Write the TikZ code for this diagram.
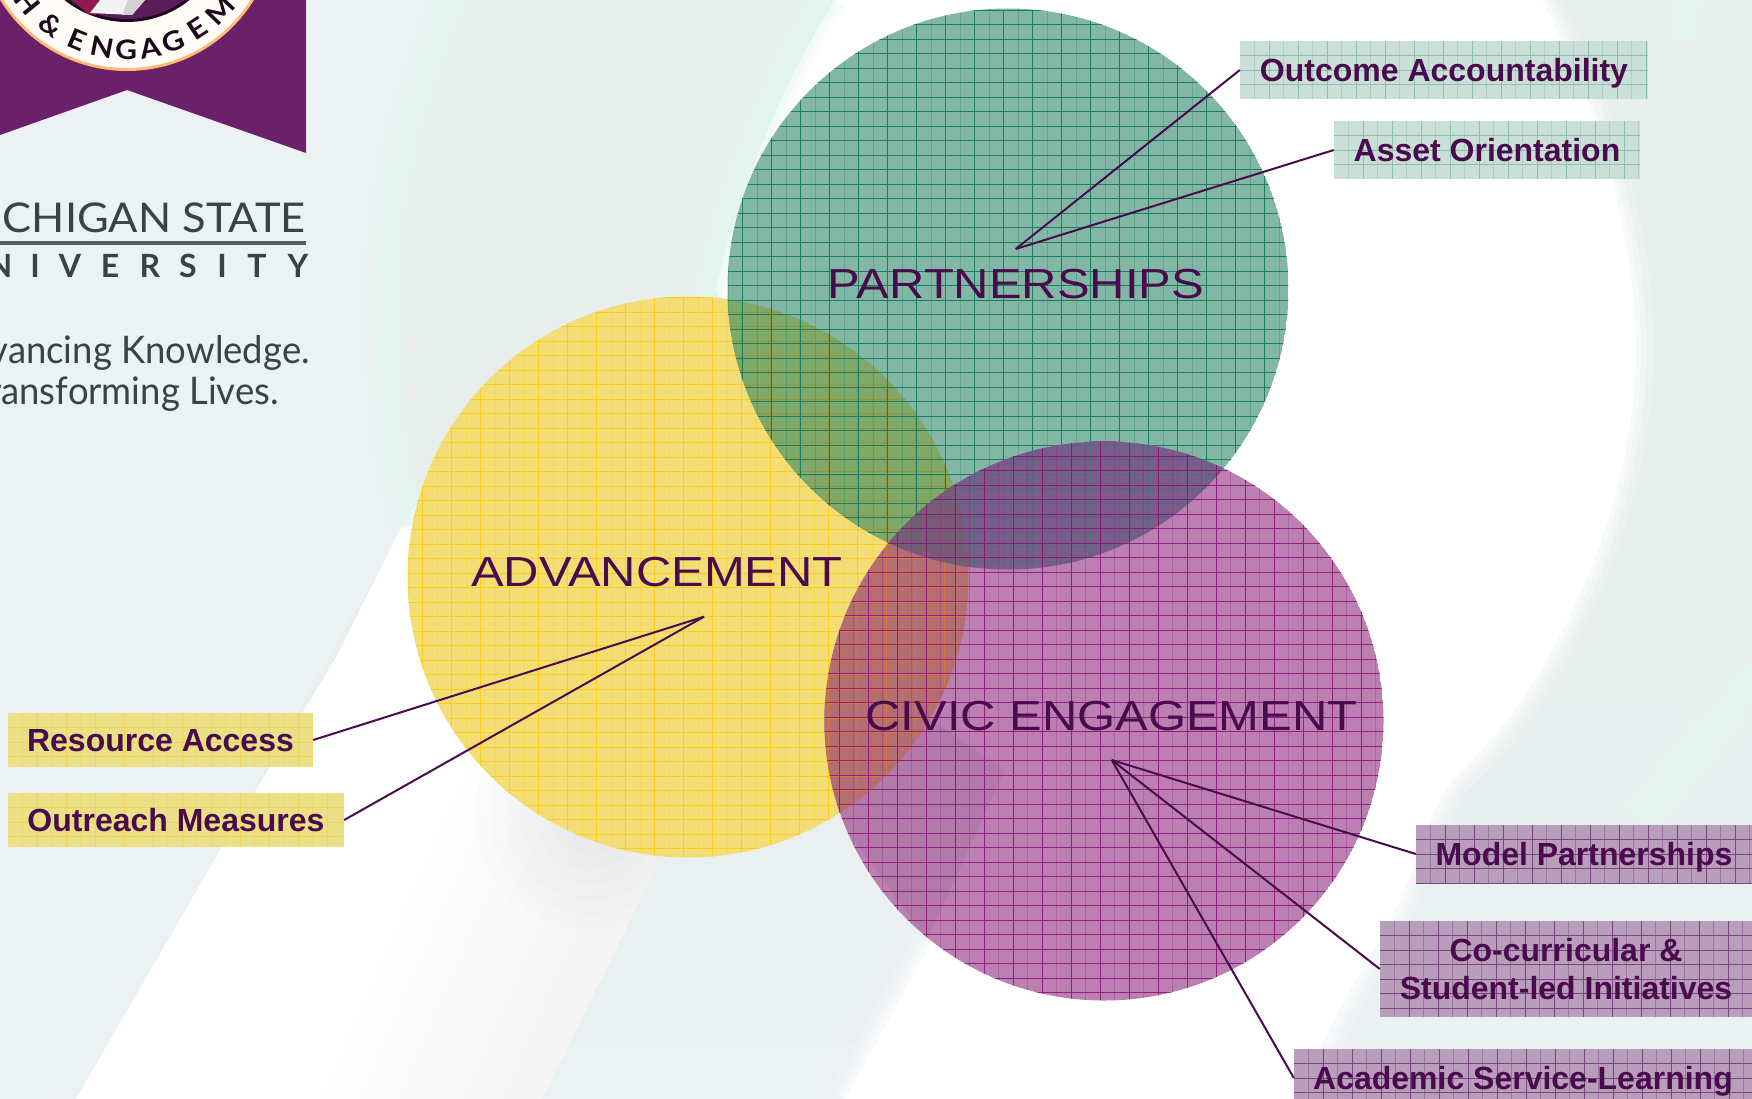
\documentclass[tikz,border=0pt]{standalone}
\usepackage{fontspec}
\setmainfont{Liberation Sans}
\newfontfamily\titlefont[FakeStretch=1.165]{Liberation Sans}
\newfontfamily\logofont{Lato}
\newfontfamily\logowide[FakeStretch=1.06]{Lato}
\newfontfamily\logonarrow[FakeStretch=.96]{Lato}
\newfontfamily\sealfont[FakeStretch=1.12]{Lato}
\definecolor{ink}{HTML}{4A0A4E}
\definecolor{bgbase}{HTML}{ECF1F4}
\definecolor{bgband}{HTML}{E7EEEB}
\definecolor{mint}{HTML}{E4F7EF}
\definecolor{cY}{HTML}{F3DE76}
\definecolor{cG}{HTML}{82B7A5}
\definecolor{cP}{HTML}{BB7FB1}
\definecolor{cYG}{HTML}{7FA968}
\definecolor{cYP}{HTML}{B26E70}
\definecolor{cGP}{HTML}{7A5C8C}
\definecolor{cYGP}{HTML}{7B5A78}
\definecolor{lY}{HTML}{FBCD1E}
\definecolor{lG}{HTML}{1A7F62}
\definecolor{lP}{HTML}{93207F}
\definecolor{bG}{HTML}{CADFD8}
\definecolor{bY}{HTML}{EBE085}
\definecolor{bP}{HTML}{B89EBA}
\definecolor{blG}{HTML}{8EBFAE}
\definecolor{blY}{HTML}{EDD55E}
\definecolor{blP}{HTML}{7A4680}
\definecolor{logotext}{HTML}{394246}
\definecolor{banner}{HTML}{6B2169}
% colour, x0, x1, x2, xmax, y0, y1, ymax: strong verticals from x1 by 29, faint from x0 by 29, horizontals from y0 by 14.5
\newcommand{\gridset}[8]{%
 \foreach \x in {#3,#4,...,#5}{\draw[#1,line width=.8pt] (\x,-#6)--(\x,-#8);}%
 \foreach \y in {#6,#7,...,#8}{\draw[#1,line width=.8pt] (#2,-\y)--(#5,-\y);}%
}
\newcommand{\faintset}[4]{%
 \foreach \x in {#2,#3,...,#4}{\draw[#1,opacity=.3,line width=.8pt] (\x,0)--(\x,-1099);}%
}
\newcommand{\ygrid}[1]{\gridset{#1}{408.2}{422.7}{451.7}{975}{297.7}{312.2}{860}\faintset{#1}{408.2}{437.2}{975}}
\newcommand{\ggrid}[1]{\gridset{#1}{728.3}{742.8}{771.8}{1295}{10.3}{24.8}{575}\faintset{#1}{728.3}{757.3}{1295}}
\newcommand{\pgrid}[1]{\gridset{#1}{824.8}{839.3}{868.3}{1390}{441.8}{456.3}{1005}\faintset{#1}{824.8}{853.8}{1390}}
\tikzset{
 gridbox/.style={draw=none,rectangle,inner sep=0pt,text=ink,align=center,
   font=\fontsize{32}{37.5}\selectfont\bfseries,
   path picture={
     \foreach \d in {14.5,43.5,...,480}{
       \draw[#1,opacity=.45,line width=.8pt] ([xshift=\d pt]path picture bounding box.south west)--([xshift=\d pt]path picture bounding box.north west);}
     \foreach \d in {29,58,...,480}{
       \draw[#1,line width=.8pt] ([xshift=\d pt]path picture bounding box.south west)--([xshift=\d pt]path picture bounding box.north west);}
     \foreach \d in {14.5,29,...,100}{
       \draw[#1,line width=.8pt] ([yshift=-\d pt]path picture bounding box.north west)--([yshift=-\d pt]path picture bounding box.north east);
     }}},
 capline/.style={text height=23.5pt,text depth=0pt},
 conn/.style={draw=ink,line width=2pt},
 title/.style={text=ink,inner sep=0pt,font=\titlefont\fontsize{42}{42}\selectfont},
 logo/.style={text=logotext,inner sep=0pt},
 seal/.style={text=black!75!banner,inner sep=0pt,font=\sealfont\fontsize{27}{27}\selectfont\bfseries},
}
\begin{document}
\begin{tikzpicture}[x=1pt,y=1pt]
\useasboundingbox (0,0) rectangle (1752,-1099);
\clip (0,0) rectangle (1752,-1099);
% ---- background
\fill[bgbase] (0,0) rectangle (1752,-1099);
\shade[top color=bgband,bottom color=bgbase,middle color=bgband] (443,0) .. controls (400,-90) and (372,-200) .. (373,-300) .. controls (374,-400) and (385,-470) .. (405,-525) -- (76,-1099) -- (1752,-1099) -- (1752,0) -- cycle;
% lower-left white band
\def\bandpath{(76,-1099) -- (220,-850) -- (335,-659) -- (402,-525) -- (480,-420) -- (700,-700) -- (650,-880) -- (542,-1099) -- cycle}
\fill[white] \bandpath;
\begin{scope}\clip \bandpath;
 \foreach \i in {0,...,9}{\fill[black,opacity=.0055] ({470+\i*20},-760) -- ({320+\i*20},-1099) -- (700,-1099) -- (750,-760) -- cycle;}
 \foreach \r in {25,40,...,115}{\fill[black,opacity=.008] (590,-815) circle (\r);}
\end{scope}
% upper/right white swoosh
\fill[white] (835,0) .. controls (790,-70) and (745,-170) .. (715,-290) -- (790,-400) -- (950,-600) -- (1000,-780) -- (931,-943) -- (845,-1099) -- (1300,-1099) .. controls (1320,-1040) and (1350,-990) .. (1394,-913) .. controls (1415,-870) and (1430,-810) .. (1453,-780) .. controls (1560,-680) and (1636,-500) .. (1636,-350) .. controls (1636,-240) and (1600,-110) .. (1542,0) -- cycle;
\foreach \w/\o in {36/.2,22/.3,10/.4}{
 \draw[white,opacity=\o,line width=\w pt,line cap=round] (1300,-1110) .. controls (1320,-1040) and (1350,-990) .. (1394,-913) .. controls (1415,-870) and (1430,-810) .. (1453,-780) .. controls (1560,-680) and (1636,-500) .. (1636,-350) .. controls (1636,-240) and (1600,-110) .. (1542,0);
 \draw[white,opacity=\o,line width=\w pt] (931,-943) -- (845,-1099);
}
\foreach \w/\o in {44/.25,30/.35,16/.5}{
 \draw[mint,opacity=\o,line width=\w pt] (455,5) .. controls (412,-90) and (384,-200) .. (385,-300) .. controls (386,-400) and (392,-470) .. (412,-525);
 \draw[mint,opacity=\o,line width=\w pt] (825,5) .. controls (780,-70) and (735,-170) .. (705,-300);
 \draw[mint,opacity=\o,line width=\w pt] (1640,-820) .. controls (1680,-770) and (1720,-720) .. (1760,-670);
 \draw[mint,opacity=\o,line width=\w pt] (1690,5) -- (1680,-40);
}
% ---- logo
\fill[banner] (0,0) -- (306,0) -- (306,-153) -- (127,-90) -- (0,-135) -- cycle;
\fill[orange!55!white] (127,78) circle (149);
\fill[white!97!orange] (127,78) circle (146);
\fill[black!75!banner] (127,78) circle (100);
\fill[banner!85!black] (127,78) circle (97);
\fill[red!25!banner] (72,0) -- (88,-14) -- (96,-15) -- (98,0) -- cycle;
\fill[white!90!gray] (100,0) -- (90,-13) -- (132,-15) -- (145,0) -- cycle;
\fill[gray!35] (128,0) -- (122,-15) -- (132,-15) -- (145,0) -- cycle;
\foreach \ch/\a/\n in {H/219/a,{\&}/233.7/b,E/247.3/c,N/258.7/d,G/269.6/e,A/280.4/f,G/291.3/g,E/303.4/h,M/316.5/i,E/331/j}{
 \node[seal,rotate=\a+90] (seal\n) at ({127+128*cos(\a)},{78+128*sin(\a)}) {\ch};
}
\node[logo,anchor=base east,font=\logowide\fontsize{41}{41}\selectfont] (msu) at (306,-233) {MICHIGAN STATE};
\fill[logotext!85] (0,-241.5) rectangle (306,-245);
\foreach \ch/\x/\n in {N/0/a,I/35/b,V/70/c,E/110/d,R/150/e,S/188/f,I/222/g,T/257/h,Y/298/i}{
 \node[logo,anchor=base,font=\logofont\fontsize{32}{32}\selectfont\bfseries] (univ\n) at (\x,-277) {\ch};
}
\node[logo,anchor=base east,font=\logonarrow\fontsize{38}{38}\selectfont] (tagA) at (310,-363) {Advancing Knowledge.};
\node[logo,anchor=base east,font=\logonarrow\fontsize{38}{38}\selectfont] (tagB) at (279,-404) {Transforming Lives.};
% ---- circles
\def\circY{(688,-577) circle (280.5)}
\def\circG{(1008,-289) circle (280.5)}
\def\circP{(1104,-721) circle (279.5)}
\begin{scope}\clip \circY; \fill[cY] \circY; \ygrid{lY} \end{scope}
\begin{scope}\clip \circG; \fill[cG] \circG; \ggrid{lG} \end{scope}
\begin{scope}\clip \circP; \fill[cP] \circP;
 \fill[black,opacity=.045] (1005,-770) -- (927,-940) -- (825,-800) -- (830,-650) -- cycle;
 \pgrid{lP} \end{scope}
\begin{scope}\clip \circY; \clip \circG; \fill[cYG] (600,-200) rectangle (1100,-700); \ygrid{olive!55!cYG} \ggrid{lG} \end{scope}
\begin{scope}\clip \circY; \clip \circP; \fill[cYP] (700,-400) rectangle (1100,-900); \ygrid{orange!50!cYP} \pgrid{lP} \end{scope}
\begin{scope}\clip \circG; \clip \circP; \fill[cGP] (800,-400) rectangle (1400,-600); \ggrid{lG!45!cGP} \pgrid{lP!90!black} \end{scope}
\begin{scope}\clip \circY; \clip \circG; \clip \circP; \fill[cYGP] (800,-400) rectangle (1100,-600); \ggrid{lG!35!cYGP} \pgrid{lP!90!black} \end{scope}
% ---- titles
\node[title] (partnerships) at (1016,-284) {PARTNERSHIPS};
\node[title] (advancement) at (657,-572) {ADVANCEMENT};
\node[title] (civic) at (1111.5,-716) {CIVIC ENGAGEMENT};
% ---- hubs
\coordinate (hubG) at (1015.7,-249);
\coordinate (hubY) at (704,-616.7);
\coordinate (hubP) at (1111.7,-760);
% ---- boxes
\node[gridbox=blG,capline,fill=bG,minimum width=408pt,minimum height=58pt] (outcome) at (1444,-70) {Outcome Accountability};
\node[gridbox=blG,capline,fill=bG,minimum width=306pt,minimum height=58pt] (asset) at (1487,-150) {Asset Orientation};
\node[gridbox=blY,capline,fill=bY,minimum width=305pt,minimum height=54pt] (resource) at (160.5,-740) {Resource Access};
\node[gridbox=blY,capline,fill=bY,minimum width=336pt,minimum height=54pt] (outreach) at (176,-820) {Outreach Measures};
\node[gridbox=blP,capline,fill=bP,minimum width=336pt,minimum height=58pt] (model) at (1584,-854) {Model Partnerships};
\node[gridbox=blP,fill=bP,minimum width=372pt,minimum height=96pt] (cocurr) at (1566,-969) {Co-curricular \&\\Student-led Initiatives};
\node[gridbox=blP,capline,fill=bP,minimum width=458pt,minimum height=58pt] (academic) at (1523,-1078) {Academic Service-Learning};
% ---- connectors
\draw[conn] (hubG) -- (outcome.west);
\draw[conn] (hubG) -- (asset.west);
\draw[conn] (hubY) -- (resource.east);
\draw[conn] (hubY) -- (outreach.east);
\draw[conn] (hubP) -- (model.west);
\draw[conn] (hubP) -- (cocurr.west);
\draw[conn] (hubP) -- (academic.west);
\end{tikzpicture}
\end{document}
